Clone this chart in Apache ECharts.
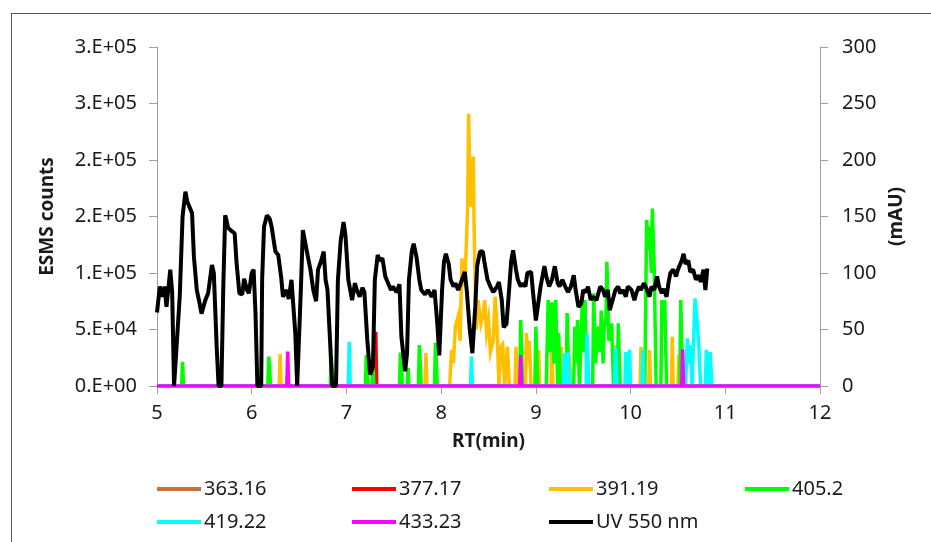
<!DOCTYPE html>
<html><head><meta charset="utf-8">
<script src="https://cdn.jsdelivr.net/npm/echarts@6/dist/echarts.min.js"></script>
<style>
html,body{margin:0;padding:0;background:#fff;}
#frame{position:absolute;left:11px;top:13px;width:940px;height:560px;border-left:1.5px solid #555;border-top:1.5px solid #555;}
#chart{position:absolute;left:0;top:0;width:931px;height:542px;}
</style></head>
<body><div id="frame"></div><div id="chart"></div>
<script>
// Left axis tick labels (as printed in the reference)
const leftTickLabels = ['0.E+00','5.E+04','1.E+05','2.E+05','2.E+05','3.E+05','3.E+05'];
const rightTickLabels = ['0','50','100','150','200','250','300'];
const seriesNames = ['363.16','377.17','391.19','405.2','419.22','433.23','UV 550 nm'];

// ESMS traces: [RT(min), counts]
const ms363 = [[5,0],[12,0]];
const ms377 = [[5,0],[7.29,0],[7.31,48000],[7.32,0],[12,0]];
const ms391 = [[5,0],[6.29,0],[6.3,28300],[6.31,0],[7.83,0],[7.84,29200],[7.85,0],
 [8.09,0],[8.11,31900],[8.13,20000],[8.15,52500],[8.18,61900],[8.2,40000],[8.22,113000],[8.25,87900],[8.28,158700],[8.29,241000],[8.31,158700],[8.34,203000],[8.35,129000],[8.37,50000],[8.39,76000],[8.42,55000],[8.44,62000],[8.46,76000],[8.48,46900],[8.5,58400],[8.52,30000],[8.55,40000],[8.57,79000],[8.59,52500],[8.61,0],[8.63,34800],[8.65,37000],[8.67,0],[8.7,34800],[8.72,0],[8.78,0],[8.79,34800],[8.8,0],
 [8.89,0],[8.9,46900],[8.92,20000],[8.93,40000],[8.95,0],[9.02,0],[9.03,31900],[9.04,0],[9.16,0],[9.17,37000],[9.18,0],
 [9.26,0],[9.27,34800],[9.28,0],[9.33,0],[9.34,36000],[9.36,37000],[9.38,0],[9.83,0],[9.84,36300],[9.85,0],
 [10.1,0],[10.11,34800],[10.12,0],[10.19,0],[10.2,31900],[10.21,0],[10.43,0],[10.44,43600],[10.45,0],[10.5,0],[10.51,28000],[10.52,0],[12,0]];
const ms405 = [[5,0],[5.26,0],[5.27,21500],[5.28,0],[6.17,0],[6.18,26000],[6.2,0],[6.83,0],[6.84,26000],[6.86,0],
 [7.2,0],[7.21,27400],[7.23,0],[7.27,0],[7.28,22000],[7.29,0],[7.56,0],[7.57,29500],[7.59,0],[7.64,0],[7.65,16000],[7.66,0],
 [7.76,0],[7.77,36300],[7.79,0],[7.93,0],[7.94,38300],[7.96,0],[8.83,0],[8.84,58400],[8.86,0],[8.99,0],[9.0,52500],[9.02,0],
 [9.11,0],[9.13,76100],[9.15,30000],[9.17,74000],[9.19,20000],[9.21,76100],[9.23,0],[9.24,46900],[9.26,0],[9.32,0],[9.33,64600],[9.35,0],
 [9.4,0],[9.41,52500],[9.43,20000],[9.44,58400],[9.46,0],[9.48,0],[9.49,73200],[9.51,30000],[9.52,76100],[9.54,0],
 [9.6,0],[9.61,82000],[9.63,20000],[9.66,52500],[9.68,30000],[9.69,66800],[9.71,20000],[9.72,49600],[9.74,60000],[9.75,110000],[9.77,40000],[9.8,55500],[9.82,0],
 [9.86,0],[9.87,55500],[9.89,0],[10.15,0],[10.17,147000],[10.19,120000],[10.2,141000],[10.22,100000],[10.23,157000],[10.25,103000],[10.27,0],
 [10.32,0],[10.33,76000],[10.35,60000],[10.36,76000],[10.38,0],[10.52,0],[10.53,76000],[10.55,0],[12,0]];
const ms419 = [[5,0],[7.02,0],[7.03,39200],[7.04,0],[8.31,0],[8.32,26000],[8.33,0],[9.29,0],[9.3,29000],[9.32,0],[9.33,0],[9.34,30000],[9.36,0],
 [9.53,0],[9.54,46600],[9.56,0],[9.83,0],[9.84,33600],[9.86,0],[9.94,0],[9.95,30000],[9.97,0],[9.98,0],[9.99,32000],[10.0,0],
 [10.12,0],[10.13,32000],[10.14,0],[10.58,0],[10.6,42200],[10.62,20000],[10.63,36000],[10.65,0],[10.67,0],[10.68,77600],[10.7,60000],[10.72,36000],[10.74,0],
 [10.79,0],[10.8,32000],[10.82,0],[10.83,0],[10.84,30000],[10.86,0],[12,0]];
const ms433 = [[5,0],[6.37,0],[6.38,30400],[6.39,0],[8.83,0],[8.84,27400],[8.85,0],[10.54,0],[10.55,32500],[10.56,0],[12,0]];

// UV 550 nm trace (mAU)
const uvTime = [5.0,5.03,5.06,5.08,5.1,5.14,5.16,5.18,5.2,5.24,5.27,5.3,5.32,5.34,5.37,5.39,5.42,5.45,5.47,5.51,5.54,5.58,5.6,5.63,5.65,5.68,5.7,5.72,5.73,5.75,5.79,5.82,5.84,5.87,5.9,5.92,5.95,5.97,6.0,6.02,6.04,6.06,6.1,6.11,6.13,6.16,6.19,6.21,6.25,6.28,6.31,6.33,6.37,6.39,6.42,6.43,6.46,6.48,6.5,6.52,6.54,6.58,6.62,6.65,6.68,6.7,6.73,6.76,6.78,6.8,6.83,6.85,6.89,6.91,6.94,6.97,6.99,7.02,7.06,7.09,7.11,7.14,7.17,7.19,7.22,7.25,7.28,7.3,7.33,7.35,7.38,7.41,7.44,7.47,7.49,7.53,7.56,7.58,7.62,7.64,7.66,7.69,7.71,7.74,7.77,7.79,7.83,7.86,7.9,7.93,7.96,7.98,8.01,8.03,8.05,8.08,8.1,8.13,8.15,8.18,8.22,8.25,8.27,8.3,8.33,8.36,8.38,8.41,8.44,8.46,8.49,8.52,8.55,8.59,8.61,8.64,8.66,8.69,8.72,8.74,8.76,8.79,8.81,8.84,8.86,8.89,8.91,8.95,8.97,9.0,9.03,9.05,9.09,9.11,9.14,9.17,9.2,9.23,9.25,9.28,9.31,9.34,9.37,9.4,9.42,9.45,9.48,9.5,9.53,9.55,9.58,9.6,9.64,9.68,9.71,9.73,9.76,9.78,9.81,9.84,9.87,9.89,9.92,9.95,9.97,10.01,10.04,10.06,10.09,10.11,10.14,10.17,10.2,10.22,10.25,10.28,10.3,10.33,10.35,10.38,10.4,10.42,10.45,10.48,10.5,10.54,10.56,10.58,10.61,10.63,10.66,10.69,10.72,10.74,10.77,10.79,10.81];
const uvVal = [65,88,79,88,70,103,83,0,0,79,150,172,163,164,153,114,85,73,64,76,82,107,100,35,0,0,88,151,148,140,137,135,109,82,81,95,85,82,100,103,64,0,0,94,141,151,148,141,119,116,97,79,85,77,94,82,47,0,0,88,138,120,103,85,75,103,110,119,94,85,35,0,0,94,129,145,133,94,76,91,85,79,87,83,41,10,17,94,116,111,113,97,91,85,88,83,90,44,13,29,94,119,126,114,94,85,81,85,79,85,55,27,85,110,117,108,94,88,91,85,94,101,85,52,29,70,106,119,119,108,94,88,83,88,92,76,52,55,88,111,120,103,94,88,91,88,100,101,83,58,76,88,106,97,88,94,106,91,88,94,88,83,88,98,85,70,73,85,83,88,76,79,76,88,85,79,85,67,76,85,88,82,85,79,88,85,76,82,88,85,91,86,79,88,85,97,88,82,86,79,91,100,103,97,103,111,117,108,111,101,103,94,98,92,103,85,104];

const colors = ['#c8713a','#ff0000','#ffc000','#00ff00','#00ffff','#ff00ff','#000000'];
const msData = [ms363, ms377, ms391, ms405, ms419, ms433];
const FONT = 'Noto Sans';
const TXT = '#1a1a1a';
const AX = '#a0a0a0';

const chart = echarts.init(document.getElementById('chart'), null, {renderer:'canvas'});
const series = msData.map((d,i)=>({
  name: seriesNames[i], type:'line', data:d, xAxisIndex:0, yAxisIndex:0,
  showSymbol:false, symbol:'none', lineStyle:{color:colors[i], width:3.5, join:'miter'}, itemStyle:{color:colors[i]},
  z: 2+i, animation:false
}));
series.push({
  name: seriesNames[6], type:'line', data: uvTime.map((t,i)=>[t, uvVal[i]]), xAxisIndex:0, yAxisIndex:1,
  showSymbol:false, symbol:'none', lineStyle:{color:'#000', width:4}, itemStyle:{color:'#000'},
  z: 10, animation:false
});

const legendPos = [[157,479],[352,479],[549,479],[745,479],[157,512],[352,512],[549,512]];
const legends = seriesNames.map((n,i)=>({
  data:[n], left:legendPos[i][0], top:legendPos[i][1], padding:0, itemGap:0,
  icon:'rect', itemWidth:44, itemHeight:4,
  textStyle:{fontFamily:FONT, fontSize:20, color:TXT, padding:[0,0,0,-2]},
  selectedMode:false
}));

chart.setOption({
  animation:false,
  color: colors,
  grid:{left:157, right:111, top:47, bottom:156, containLabel:false},
  legend: legends,
  xAxis:{type:'value', min:5, max:12, interval:1,
    name:'RT(min)', nameLocation:'middle', nameGap:46,
    nameTextStyle:{fontFamily:FONT, fontSize:19, fontWeight:'bold', color:TXT},
    axisLine:{show:true, lineStyle:{color:AX, width:1}},
    axisTick:{show:true, inside:false, length:8, lineStyle:{color:AX}},
    axisLabel:{fontFamily:FONT, fontSize:20, color:TXT, margin:17},
    splitLine:{show:false}},
  yAxis:[
    {type:'value', min:0, max:300000, interval:50000, position:'left',
     name:'ESMS counts', nameLocation:'middle', nameGap:100, nameRotate:90,
     nameTextStyle:{fontFamily:FONT, fontSize:19, fontWeight:'bold', color:TXT},
     axisLine:{show:true, lineStyle:{color:AX, width:1}},
     axisTick:{show:true, inside:false, length:8, lineStyle:{color:AX}},
     axisLabel:{fontFamily:FONT, fontSize:20, color:TXT, margin:20,
       formatter:(v)=>leftTickLabels[Math.round(v/50000)]},
     splitLine:{show:false}},
    {type:'value', min:0, max:300, interval:50, position:'right',
     name:'(mAU)', nameLocation:'middle', nameGap:66, nameRotate:90,
     nameTextStyle:{fontFamily:FONT, fontSize:19, fontWeight:'bold', color:TXT},
     axisLine:{show:true, lineStyle:{color:AX, width:1}},
     axisTick:{show:true, inside:false, length:8, lineStyle:{color:AX}},
     axisLabel:{fontFamily:FONT, fontSize:20, color:TXT, margin:22,
       formatter:(v)=>rightTickLabels[Math.round(v/50)]},
     splitLine:{show:false}}
  ],
  series: series
});
</script></body></html>
